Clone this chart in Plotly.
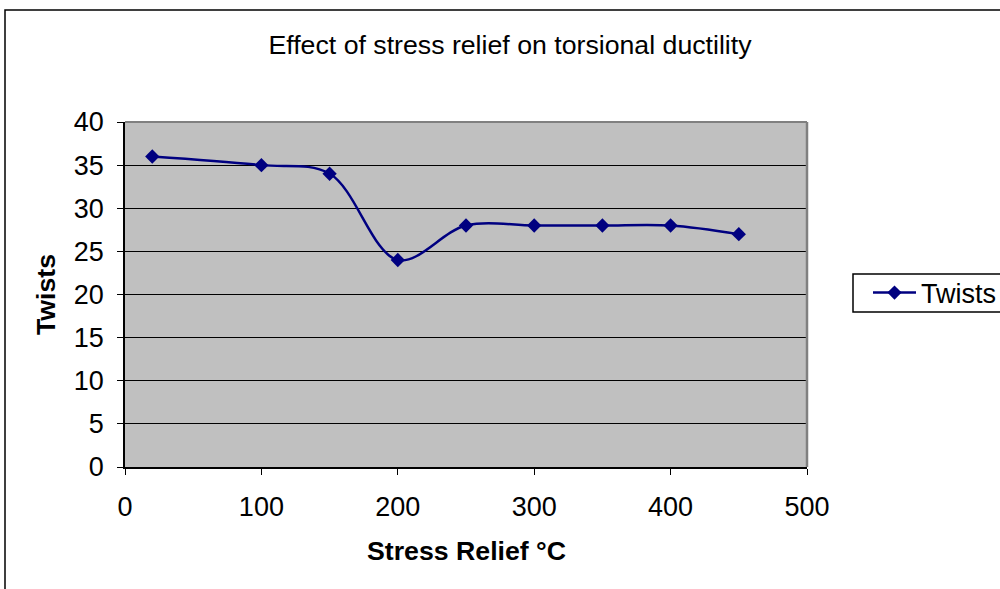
import plotly.graph_objects as go

# Data
stress_relief_c = [20, 100, 150, 200, 250, 300, 350, 400, 450]
twists = [36, 35, 34, 24, 28, 28, 28, 28, 27]
x_ticks = [0, 100, 200, 300, 400, 500]
y_ticks = [0, 5, 10, 15, 20, 25, 30, 35, 40]

FONT = "Liberation Sans, Arial, sans-serif"
NAVY = "#000080"

fig = go.Figure()
fig.add_trace(go.Scatter(
    x=stress_relief_c, y=twists, name="Twists",
    mode="lines+markers",
    line=dict(color=NAVY, width=2.5, shape="spline", smoothing=1),
    marker=dict(symbol="diamond", size=11, color=NAVY),
))

W, H = 1000, 589
L, T = 125, 122
R = W - 807
B = H - 467
pw = W - L - R
ph = H - T - B

def px_x(px):
    return (px - L) / pw

def px_y(py):
    return (H - B - py) / ph

fig.update_layout(
    width=W, height=H,
    margin=dict(l=L, r=R, t=T, b=B, autoexpand=False),
    paper_bgcolor="white",
    plot_bgcolor="#C0C0C0",
    font=dict(family=FONT, size=27, color="black"),
    title=dict(text="Effect of stress relief on torsional ductility",
               x=510 / W, xref="container", xanchor="center",
               y=1 - 45 / H, yref="container", yanchor="middle",
               font=dict(size=26.7, family=FONT, color="black")),
    xaxis=dict(range=[0, 500], tickvals=x_ticks, showgrid=False,
               showline=True, linecolor="black", linewidth=1.5,
               ticks="outside", ticklen=6, tickcolor="black", tickwidth=1,
               ticklabelstandoff=9, zeroline=False,
               tickfont=dict(size=27, family=FONT)),
    yaxis=dict(range=[0, 40], tickvals=y_ticks, showgrid=True,
               gridcolor="black", gridwidth=1,
               showline=True, linecolor="black", linewidth=1.5,
               ticks="outside", ticklen=6, tickcolor="black", tickwidth=1,
               ticklabelstandoff=8, zeroline=False,
               tickfont=dict(size=27, family=FONT)),
    showlegend=True,
    legend=dict(x=px_x(868), xanchor="left", y=px_y(293), yanchor="middle",
                bgcolor="rgba(0,0,0,0)", borderwidth=0, itemwidth=43,
                font=dict(size=27, family=FONT)),
    annotations=[
        dict(text="<b>Stress Relief °C</b>", x=px_x(466), y=px_y(551),
             xref="paper", yref="paper", xanchor="center", yanchor="middle",
             showarrow=False, font=dict(size=26.7, family=FONT)),
        dict(text="<b>Twists</b>", x=px_x(46), y=px_y(295), textangle=-90,
             xref="paper", yref="paper", xanchor="center", yanchor="middle",
             showarrow=False, font=dict(size=26.7, family=FONT)),
    ],
    shapes=[
        dict(type="line", xref="paper", yref="paper", x0=0, x1=1, y0=1, y1=1,
             line=dict(color="#808080", width=2)),
        dict(type="line", xref="paper", yref="paper", x0=1, x1=1, y0=0, y1=1,
             line=dict(color="#808080", width=2.5)),
        dict(type="rect", xref="paper", yref="paper",
             x0=px_x(5), x1=px_x(1100), y0=px_y(700), y1=px_y(10),
             line=dict(color="black", width=1.5)),
        dict(type="rect", xref="paper", yref="paper",
             x0=px_x(853), x1=px_x(1015), y0=px_y(312), y1=px_y(274),
             line=dict(color="black", width=1.5), fillcolor="white",
             layer="below"),
    ],
)

fig.write_html("out.html",
               config={"displayModeBar": False},
               post_script="document.body.style.margin='0';"
                           "document.documentElement.style.overflow='hidden';")
